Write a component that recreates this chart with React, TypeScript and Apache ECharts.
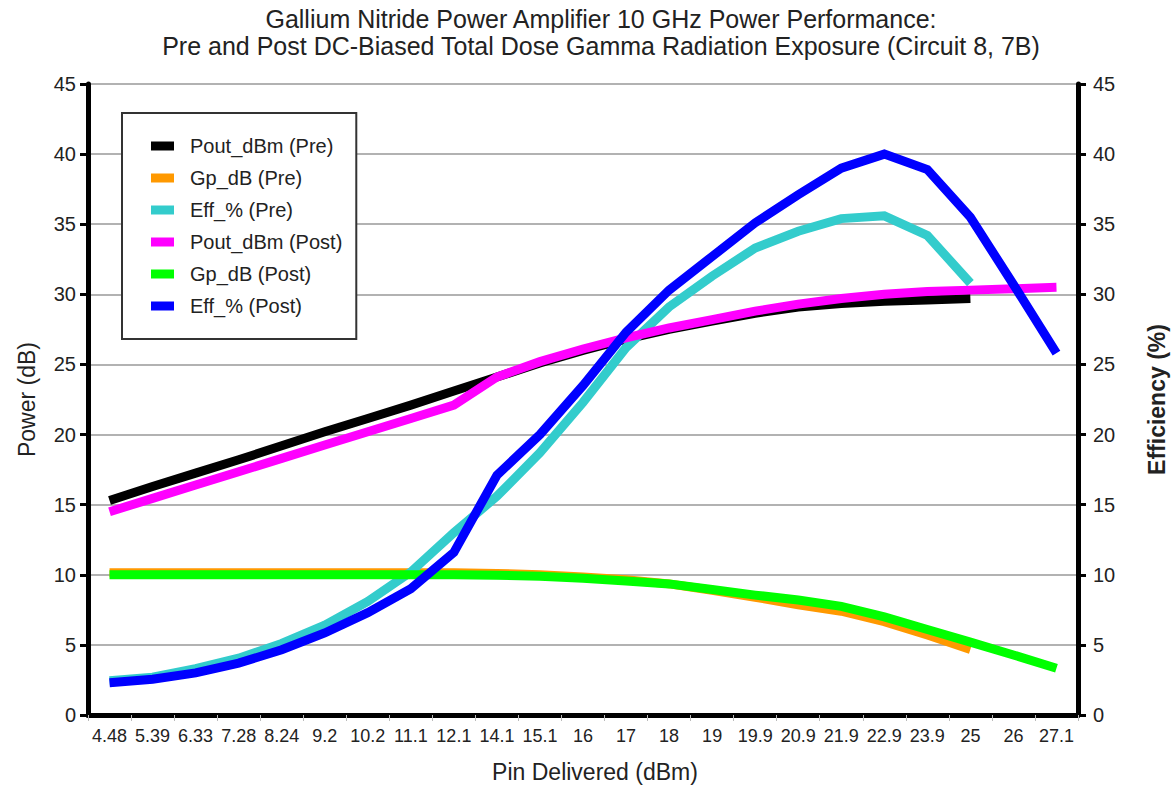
import React, { useEffect, useRef } from "react";
import * as echarts from "echarts";

const categories = ["4.48","5.39","6.33","7.28","8.24","9.2","10.2","11.1","12.1","14.1","15.1","16","17","18","19","19.9","20.9","21.9","22.9","23.9","25","26","27.1"];

const poutPre = [15.3,16.3,17.25,18.2,19.2,20.2,21.15,22.1,23.1,24.1,25.1,26.0,26.8,27.5,28.1,28.65,29.1,29.35,29.5,29.6,29.7];
const gpPre = [10.15,10.15,10.15,10.15,10.15,10.15,10.15,10.15,10.15,10.1,10.0,9.85,9.65,9.35,8.9,8.4,7.85,7.4,6.65,5.7,4.68];
const effPre = [2.45,2.7,3.3,4.05,5.1,6.4,8.1,10.2,13.0,15.6,18.7,22.3,26.2,29.1,31.3,33.3,34.5,35.4,35.6,34.2,30.8];
const poutPost = [14.5,15.45,16.4,17.35,18.3,19.25,20.2,21.15,22.1,24.1,25.2,26.1,26.9,27.6,28.2,28.8,29.3,29.7,30.0,30.2,30.3,30.4,30.5];
const gpPost = [10.0,10.0,10.0,10.0,10.0,10.0,10.0,10.0,10.0,9.97,9.9,9.75,9.55,9.35,8.95,8.55,8.2,7.75,7.0,6.1,5.2,4.28,3.33];
const effPost = [2.3,2.55,3.0,3.7,4.65,5.85,7.3,9.0,11.6,17.1,20.0,23.5,27.3,30.3,32.7,35.1,37.1,39.0,40.0,38.9,35.5,30.7,25.8];

const seriesNames = ["Pout_dBm (Pre)","Gp_dB (Pre)","Eff_% (Pre)","Pout_dBm (Post)","Gp_dB (Post)","Eff_% (Post)"];
const seriesColors = ["#000000","#FF9900","#33CCCC","#FF00FF","#00FF00","#0000FF"];
const seriesData = [poutPre, gpPre, effPre, poutPost, gpPost, effPost];
const seriesAxis = [0, 0, 1, 0, 0, 1];

const titleLines = [
  "Gallium Nitride Power Amplifier 10 GHz Power Performance:",
  "Pre and Post DC-Biased Total Dose Gamma Radiation Exposure (Circuit 8, 7B)",
];

const yTicksMax = 45;
const yInterval = 5;

const FONT = "Liberation Sans, Arial, sans-serif";

export default function App() {
  const ref = useRef<HTMLDivElement>(null);
  useEffect(() => {
    document.body.style.margin = "0";
    const chart = echarts.init(ref.current!, null, { renderer: "svg" });
    const yAxisBase = (pos: "left" | "right") => ({
      type: "value",
      position: pos,
      min: 0,
      max: yTicksMax,
      interval: yInterval,
      axisLine: { show: true, lineStyle: { color: "#000", width: 5 } },
      axisTick: { show: true, length: 8, lineStyle: { color: "#000", width: 3 } },
      axisLabel: { fontSize: 20, color: "#222", margin: pos === "left" ? 12 : 15, fontFamily: FONT },
      nameLocation: "middle",
      nameRotate: 90,
    });
    chart.setOption({
      animation: false,
      backgroundColor: "#fff",
      textStyle: { fontFamily: FONT },
      title: titleLines.map((t, i) => ({
        text: t,
        left: 601,
        textAlign: "center",
        top: i === 0 ? 6 : 33,
        padding: 0,
        textStyle: { fontSize: 25, lineHeight: 25, fontWeight: "normal", color: "#222", fontFamily: FONT },
      })),
      legend: {
        orient: "vertical",
        left: 122,
        top: 113,
        padding: [23, 14, 23, 29],
        itemWidth: 23,
        itemHeight: 9,
        itemGap: 12,
        icon: "rect",
        borderColor: "#333",
        borderWidth: 2,
        backgroundColor: "#fff",
        textStyle: { fontSize: 20, color: "#222", padding: [0, 0, 0, 11], fontFamily: FONT },
        data: seriesNames,
      },
      grid: { left: 88, right: 95, top: 84, bottom: 76, containLabel: false },
      xAxis: {
        type: "category",
        data: categories,
        boundaryGap: true,
        axisLine: { lineStyle: { color: "#000", width: 5 } },
        axisTick: { show: true, length: 6, lineStyle: { color: "#bbb", width: 1 } },
        axisLabel: { interval: 0, fontSize: 18, color: "#222", margin: 12, fontFamily: FONT },
        name: "Pin Delivered (dBm)",
        nameLocation: "middle",
        nameGap: 45,
        nameTextStyle: { fontSize: 23, color: "#222", padding: [0, 0, 0, 24], fontFamily: FONT },
      },
      yAxis: [
        {
          ...yAxisBase("left"),
          name: "Power (dB)",
          nameGap: 50,
          nameTextStyle: { fontSize: 23, color: "#222", fontFamily: FONT },
          splitLine: { show: true, lineStyle: { color: "#999", width: 1.5 } },
        },
        {
          ...yAxisBase("right"),
          name: "Efficiency (%)",
          nameGap: 67,
          nameTextStyle: { fontSize: 23, color: "#222", fontWeight: "bold", fontFamily: FONT },
          splitLine: { show: false },
        },
      ],
      series: seriesNames.map((name, i) => ({
        name,
        type: "line",
        yAxisIndex: seriesAxis[i],
        data: seriesData[i],
        symbol: "none",
        color: seriesColors[i],
        lineStyle: { color: seriesColors[i], width: 9, cap: "butt", join: "miter" },
        itemStyle: { color: seriesColors[i] },
        z: 2 + i,
      })),
    });
    return () => chart.dispose();
  }, []);
  return <div ref={ref} style={{ width: 1176, height: 791 }} />;
}
